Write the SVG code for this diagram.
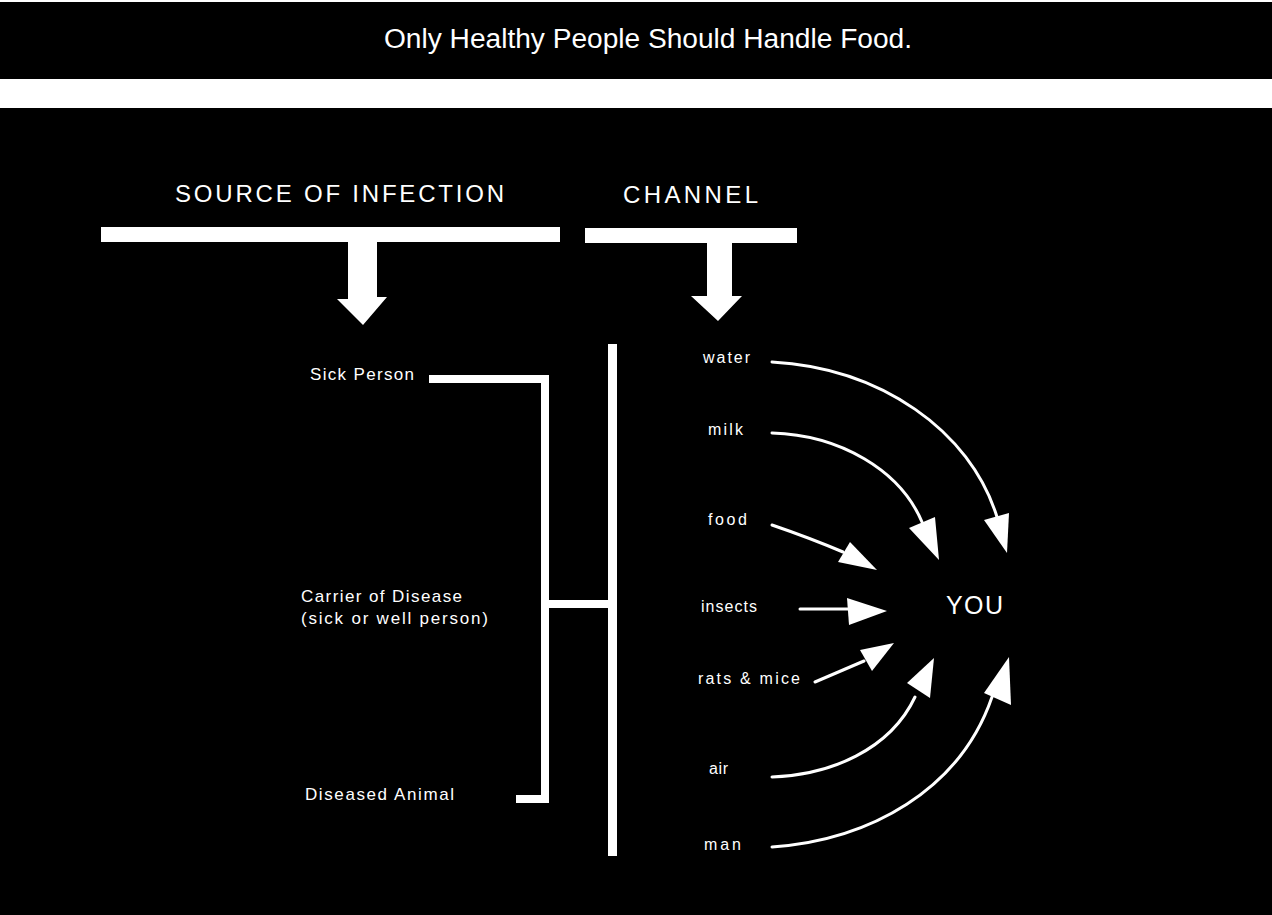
<svg xmlns="http://www.w3.org/2000/svg" width="1272" height="915" viewBox="0 0 1272 915">
<style>
.bg{fill:#000}
.w{fill:#fff}
.t{fill:#fff;font-family:"Liberation Sans",Arial,sans-serif}
.title{font-size:27px}
.head{font-size:24px}
.src{font-size:17px}
.ch{font-size:16px}
.you{font-size:25px}
.ln{fill:none;stroke:#fff;stroke-width:3;stroke-linecap:round}
</style>
<rect x="0" y="0" width="1272" height="915" fill="#fff"/>
<rect class="bg" x="0" y="2" width="1272" height="77"/>
<rect class="bg" x="0" y="108" width="1272" height="807"/>

<g id="title">
<text class="t title" x="384" y="48" textLength="528" lengthAdjust="spacingAndGlyphs">Only Healthy People Should Handle Food.</text>
</g>

<g id="source-header">
<text class="t head" x="175" y="202" textLength="329" lengthAdjust="spacing">SOURCE OF INFECTION</text>
<rect class="w" x="101" y="227" width="459" height="15"/>
<path class="w" d="M348,240 L377,240 L377,297 L387,297 L363,325 L337,299 L348,299 Z"/>
</g>

<g id="channel-header">
<text class="t head" x="623" y="203" textLength="135" lengthAdjust="spacing">CHANNEL</text>
<rect class="w" x="585" y="228" width="212" height="15"/>
<path class="w" d="M707,240 L732,240 L732,296 L742,296 L718,321 L691,296 L707,296 Z"/>
</g>

<g id="sick-person"><text class="t src" x="310" y="380" textLength="104" lengthAdjust="spacing">Sick Person</text></g>
<g id="carrier"><text class="t src" x="301" y="602" textLength="161" lengthAdjust="spacing">Carrier of Disease</text><text class="t src" x="301" y="624" textLength="187" lengthAdjust="spacing">(sick or well person)</text></g>
<g id="diseased-animal"><text class="t src" x="305" y="800" textLength="149" lengthAdjust="spacing">Diseased Animal</text></g>

<g id="water"><text class="t ch" x="703" y="363" textLength="47" lengthAdjust="spacing">water</text></g>
<g id="milk"><text class="t ch" x="708" y="435" textLength="35" lengthAdjust="spacing">milk</text></g>
<g id="food"><text class="t ch" x="708" y="525" textLength="39" lengthAdjust="spacing">food</text></g>
<g id="insects"><text class="t ch" x="701" y="612" textLength="56" lengthAdjust="spacing">insects</text></g>
<g id="rats-mice"><text class="t ch" x="698" y="684" textLength="102" lengthAdjust="spacing">rats &amp; mice</text></g>
<g id="air"><text class="t ch" x="709" y="774" textLength="19" lengthAdjust="spacing">air</text></g>
<g id="man"><text class="t ch" x="704" y="850" textLength="37" lengthAdjust="spacing">man</text></g>
<g id="you"><text class="t you" x="946" y="614" textLength="57" lengthAdjust="spacing">YOU</text></g>

<g id="connectors">
<g id="bracket">
<rect class="w" x="429" y="375" width="120" height="8"/>
<rect class="w" x="541" y="375" width="8" height="428"/>
<rect class="w" x="516" y="795" width="33" height="8"/>
<rect class="w" x="541" y="600" width="76" height="8"/>
<rect class="w" x="608" y="344" width="9" height="512"/>
</g>
<g id="arrows">
<path class="ln" d="M772,362 C880,368 970,430 997,517"/>
<polygon class="w" points="984,520 1009,513 1007,553"/>
<path class="ln" d="M772,433 C840,435 900,470 922,522"/>
<polygon class="w" points="909,528 935,517 939,560"/>
<path class="ln" d="M772,525 Q810,538 843,552"/>
<polygon class="w" points="838,562 850,542 877,570"/>
<path class="ln" d="M800,609 L848,609"/>
<polygon class="w" points="847,598 849,625 887,611"/>
<path class="ln" d="M815,682 L864,661"/>
<polygon class="w" points="860,650 872,671 894,643"/>
<path class="ln" d="M772,777 C830,775 890,750 915,697"/>
<polygon class="w" points="907,683 930,698 934,658"/>
<path class="ln" d="M772,847 C870,840 960,790 992,697"/>
<polygon class="w" points="984,693 1011,705 1009,657"/>
</g>
</g>
</svg>
